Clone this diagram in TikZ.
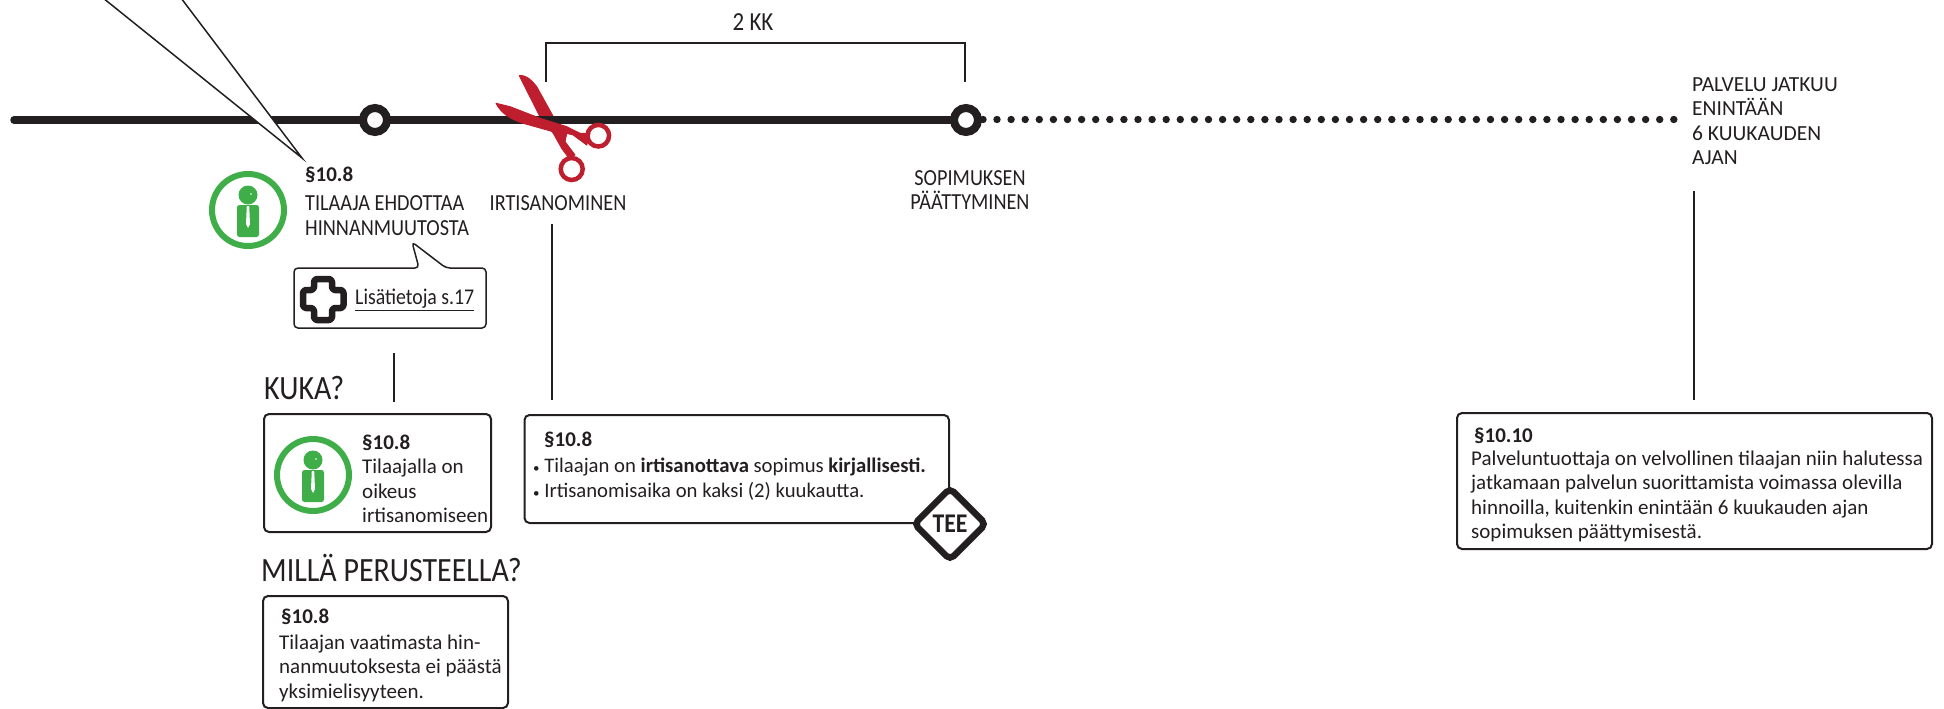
\documentclass[tikz,border=0pt]{standalone}
\usepackage{fontspec}
\setmainfont{Carlito}
\newfontfamily\narrow[FakeStretch=0.88]{Carlito}
\usetikzlibrary{calc,shapes.geometric}
\definecolor{ink}{HTML}{231F20}
\definecolor{leaf}{HTML}{3FAE49}
\definecolor{blade}{HTML}{BE1E2D}
\newcommand{\smalldot}{{\fontsize{13}{13}\selectfont •}}
\tikzset{
	txt/.style={anchor=west,inner sep=0pt,align=left,text=ink,font=\fontsize{21}{24.4}\selectfont},
	caps/.style={txt,font=\narrow\fontsize{23}{24.4}\selectfont},
	big/.style={anchor=west,inner sep=0pt,text=ink,font=\narrow\fontsize{34}{36}\selectfont},
	boxline/.style={draw=ink,line width=2pt,rounded corners=5pt},
	stem/.style={draw=ink,line width=2.5pt},
	ring/.style={draw=ink,line width=8pt,fill=white}
}
\begin{document}
\begin{tikzpicture}[x=1pt,y=-1pt]
	\useasboundingbox (0,0) rectangle (1944,709);
	\coordinate (start) at (14,120);
	\coordinate (mid) at (375,120);
	\coordinate (end) at (966,120);
	\coordinate (tip) at (302,158);
	\coordinate (iconA) at (248,210);
	\coordinate (iconB) at (313,475);
	
	% upper blade goes behind the line
	\filldraw[blade,line width=1pt,line join=round] (519.3,75.7) .. controls (524,75) and (529,77) .. (536.7,86.7)
		-- (553.3,116.7) -- (566.7,133.3) -- (565,141.7) -- (575,155) -- (568.3,157.3) -- (561.7,148.3)
		-- (553.3,133.3) -- (540,116.7) -- cycle;
	
	% timeline
	\draw[ink,line width=7.5pt,line cap=round] (start) -- (end);
	\foreach \k in {0,...,48}{
		\fill[ink] ($(997,119.5)+(14.1*\k,0)$) circle (3.7);}
	\fill[ink] (983,119.5) circle (3.7);
	\draw[ring] (mid) circle (12);
	\draw[ring] (end) circle (12);
	
	% wedge
	\draw[ink,line width=1.5pt,fill=white] (103,-2) -- (tip) -- (181,-2);
	
	% 2 kk bracket
	\draw[ink,line width=1.5pt] (546,82) -- (546,43) -- (965,43) -- (965,82);
	\node[caps,anchor=center,font=\narrow\fontsize{26}{26}\selectfont] (kk) at (753,22) {2 KK};
	
	% lower blade and the rings
	\filldraw[blade,line width=1pt,line join=round] (496,103.3) -- (510,106.7) -- (540,118.3) -- (566.7,126.7) -- (580,133.3) -- (590,133.3)
		-- (586.7,145) -- (573.3,135) -- (566.7,133.3) -- (553.3,131.7) -- (523.3,123.3)
		.. controls (510,119) and (501,113) .. cycle;
	\draw[blade,line width=4.5pt] (571.7,169) circle (11);
	\draw[blade,line width=4.5pt] (598.3,135.7) circle (10.8);
	
	% person icons
	\foreach \x in {iconA,iconB}{
		\draw[leaf,line width=6pt] (\x) circle (36);
		\fill[leaf] ($(\x)+(0,-15)$) circle (9.5);
		\fill[white] ($(\x)+(3,-16)$) circle (0.8);
		\fill[leaf,rounded corners=2.5pt] ($(\x)+(-11,-5)$) rectangle ($(\x)+(11,27)$);
		\fill[white] ($(\x)+(-1.2,-4)$) -- ($(\x)+(1.2,-4)$) -- ($(\x)+(2,14)$) -- ($(\x)+(0,18)$) -- ($(\x)+(-2,14)$) -- cycle;}
	
	% labels on the line
	\node[txt] (par) at (305,175) {\textbf{§10.8}};
	\node[caps] (tilaaja) at (305,215.5) {TILAAJA EHDOTTAA\\HINNANMUUTOSTA};
	\node[caps,anchor=center] (irti) at (558,203) {IRTISANOMINEN};
	\node[caps,anchor=center,align=center] (paatos) at (970,190) {SOPIMUKSEN\\PÄÄTTYMINEN};
	\node[caps,font=\fontsize{21.5}{24.4}\selectfont] (jatkuu) at (1692,121) {PALVELU JATKUU\\ENINTÄÄN\\6 KUUKAUDEN\\AJAN};
	
	% speech bubble
	\draw[ink,line width=1.5pt,rounded corners=4pt] (294,268) -- (419,268) -- (412,242) -- (446,268) -- (486,268) -- (486,328) -- (294,328) -- cycle;
	\draw[ink,line width=6.5pt,fill=white,rounded corners=3pt,line join=round]
		(314,279) -- (332,279) -- (332,290) -- (343.5,290) -- (343.5,308) -- (332,308) -- (332,320)
		-- (314,320) -- (314,308) -- (303,308) -- (303,290) -- (314,290) -- cycle;
	\node[caps,font=\narrow\fontsize{22.5}{24.4}\selectfont] (lisa) at (355,300) {\underline{Lisätietoja s.17}};
	
	% stems
	\draw[stem] (394,353) -- (394,402);
	\draw[stem] (552,224) -- (552,400);
	\draw[stem] (1694,191) -- (1694,400);
	
	% boxes
	\node[big] (kuka) at (264,388) {KUKA?};
	\draw[boxline] (264,414) rectangle (491,532);
	\node[txt] (kukatxt) at (362,479) {\textbf{§10.8}\\Tilaajalla on\\oikeus\\irtisanomiseen};
	
	\draw[boxline] (524.5,415) rectangle (949,523);
	\node[txt] (teepar) at (544,440) {\textbf{§10.8}};
	\node[txt,font=\fontsize{20.7}{24.4}\selectfont] (teetxt) at (533,479) {\smalldot\ Tilaajan on \textbf{irtisanottava} sopimus \textbf{kirjallisesti.}\\\smalldot\ Irtisanomisaika on kaksi (2) kuukautta.};
	\node[diamond,draw=ink,line width=6.5pt,fill=white,rounded corners=5pt,aspect=1,inner sep=0pt,minimum width=74pt,minimum height=74pt,font=\narrow\fontsize{27}{27}\selectfont\bfseries,text=ink] (tee) at (950,524) {TEE};
	
	\node[big] (peruste) at (261,568) {MILLÄ PERUSTEELLA?};
	\draw[boxline] (263,596) rectangle (508,708);
	\node[txt] (perpar) at (281,617) {\textbf{§10.8}};
	\node[txt] (pertxt) at (279,668) {Tilaajan vaatimasta hin-\\nanmuutoksesta ei päästä\\yksimielisyyteen.};
	
	\draw[boxline] (1457,413) rectangle (1932,549);
	\node[txt] (palpar) at (1474,436) {\textbf{§10.10}};
	\node[txt] (paltxt) at (1471,496.5) {Palveluntuottaja on velvollinen tilaajan niin halutessa\\jatkamaan palvelun suorittamista voimassa olevilla\\hinnoilla, kuitenkin enintään 6 kuukauden ajan\\sopimuksen päättymisestä.};
\end{tikzpicture}
\end{document}
